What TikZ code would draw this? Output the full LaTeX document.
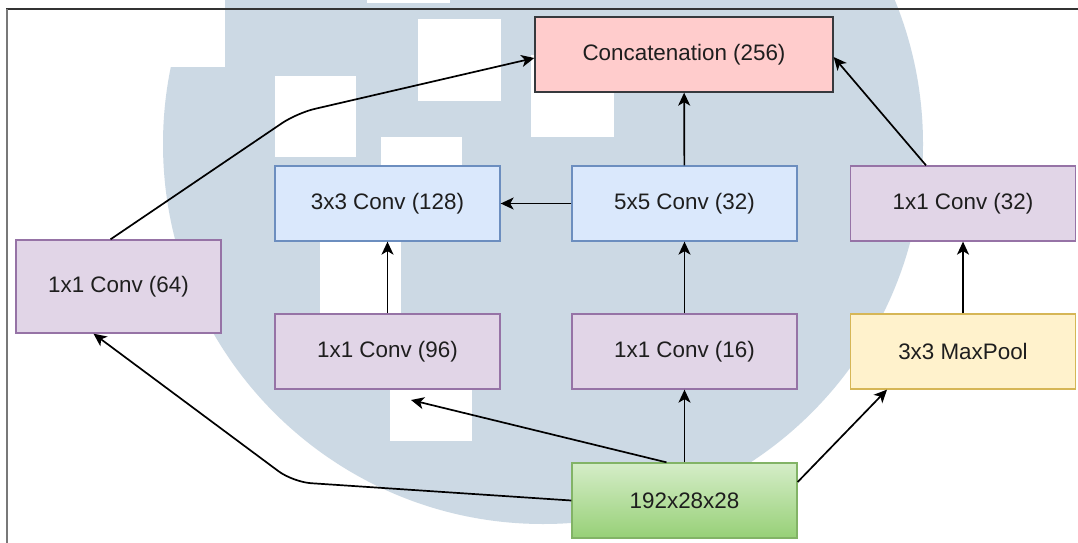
\documentclass[tikz,border=0pt]{standalone}
\usepackage{fontspec}
\setmainfont{Liberation Sans}
\usetikzlibrary{arrows.meta}

\definecolor{markfill}{RGB}{204,217,228}
\definecolor{txt}{HTML}{1E1E1E}
\definecolor{redfill}{HTML}{FFCCCC}
\definecolor{redline}{HTML}{36393D}
\definecolor{bluefill}{HTML}{DAE8FC}
\definecolor{blueline}{HTML}{6C8EBF}
\definecolor{purpfill}{HTML}{E1D5E7}
\definecolor{purpline}{HTML}{9673A6}
\definecolor{yelfill}{HTML}{FFF2CC}
\definecolor{yelline}{HTML}{D6B656}
\definecolor{grntop}{HTML}{D5EDC8}
\definecolor{grnbot}{HTML}{97D077}
\definecolor{grnline}{HTML}{82B366}

\tikzset{
  box/.style={draw, rectangle, minimum width=225pt, minimum height=75pt,
    line width=1.3pt, text=txt, inner sep=2pt,
    font=\fontsize{22.4}{26}\selectfont},
  concatbox/.style={box, fill=redfill, draw=redline, minimum width=298pt},
  convbox/.style={box, fill=bluefill, draw=blueline},
  reducebox/.style={box, fill=purpfill, draw=purpline},
  poolbox/.style={box, fill=yelfill, draw=yelline},
  inputbox/.style={box, top color=grntop, bottom color=grnbot, draw=grnline},
  arr/.style={draw=black, line width=1.7pt,
    -{Stealth[length=13pt, width=12pt, inset=3.5pt]}},
}

\begin{document}
\begin{tikzpicture}[x=1pt, y=-1pt]
\useasboundingbox (0,0) rectangle (1078,543);
\clip (0,0) rectangle (1078,543);
\fill[white] (0,0) rectangle (1078,543);

% watermark: round emblem with square cut-outs
\fill[markfill] (543,144) circle [radius=380pt];
\fill[white] (140,-20) rectangle (225,67);
\fill[white] (367,-79) rectangle (450,3);
\fill[white] (418,19) rectangle (501,101);
\fill[white] (275,76) rectangle (356,157);
\fill[white] (381,137) rectangle (462,218);
\fill[white] (320,234) rectangle (401,316);
\fill[white] (390,360) rectangle (472,441);
\fill[white] (531,55) rectangle (614,137);

% frame lines
\draw[line width=1.5pt, draw={rgb,255:red,51;green,51;blue,51}] (6,9) -- (1078,9);
\draw[line width=2pt, draw={rgb,255:red,120;green,120;blue,120}] (7,9) -- (7,543);

% layers
\node[concatbox] (concat) at (684,54.5) {Concatenation (256)};
\node[convbox]   (c3)     at (387.5,203.5) {3x3 Conv (128)};
\node[convbox]   (c5)     at (684.5,203.5) {5x5 Conv (32)};
\node[reducebox] (p1)     at (963,203.5) {1x1 Conv (32)};
\node[reducebox, minimum width=205pt, minimum height=93pt] (c1) at (118.5,286.5) {1x1 Conv (64)};
\node[reducebox] (r3)     at (387.5,351.5) {1x1 Conv (96)};
\node[reducebox] (r5)     at (684.5,351.5) {1x1 Conv (16)};
\node[poolbox]   (pool)   at (963,351.5) {3x3 MaxPool};
\node[inputbox]  (inp)    at (684.5,500.5) {192x28x28};

\coordinate (r3tip) at (411,400);

% connections
\draw[arr, rounded corners=18pt] ([xshift=-8pt]c1.north) -- (297,113) -- ([yshift=-3.5pt]concat.west);
\draw[arr] (c5) -- (concat);
\draw[arr] ([xshift=-37pt]p1.north) -- ([yshift=-2.5pt]concat.east);
\draw[arr] (c5) -- (c3);
\draw[arr] (r3) -- (c3);
\draw[arr] (r5) -- (c5);
\draw[arr] (pool) -- (p1);
\draw[arr] (inp) -- (r5);
\draw[arr] ([xshift=-18pt]inp.north) -- (r3tip);
\draw[arr] ([yshift=18.5pt]inp.east) -- ([xshift=-76pt]pool.south);
\draw[arr, rounded corners=18pt] (inp.west) -- (293,482) -- ([xshift=-25pt]c1.south);
\end{tikzpicture}
\end{document}
